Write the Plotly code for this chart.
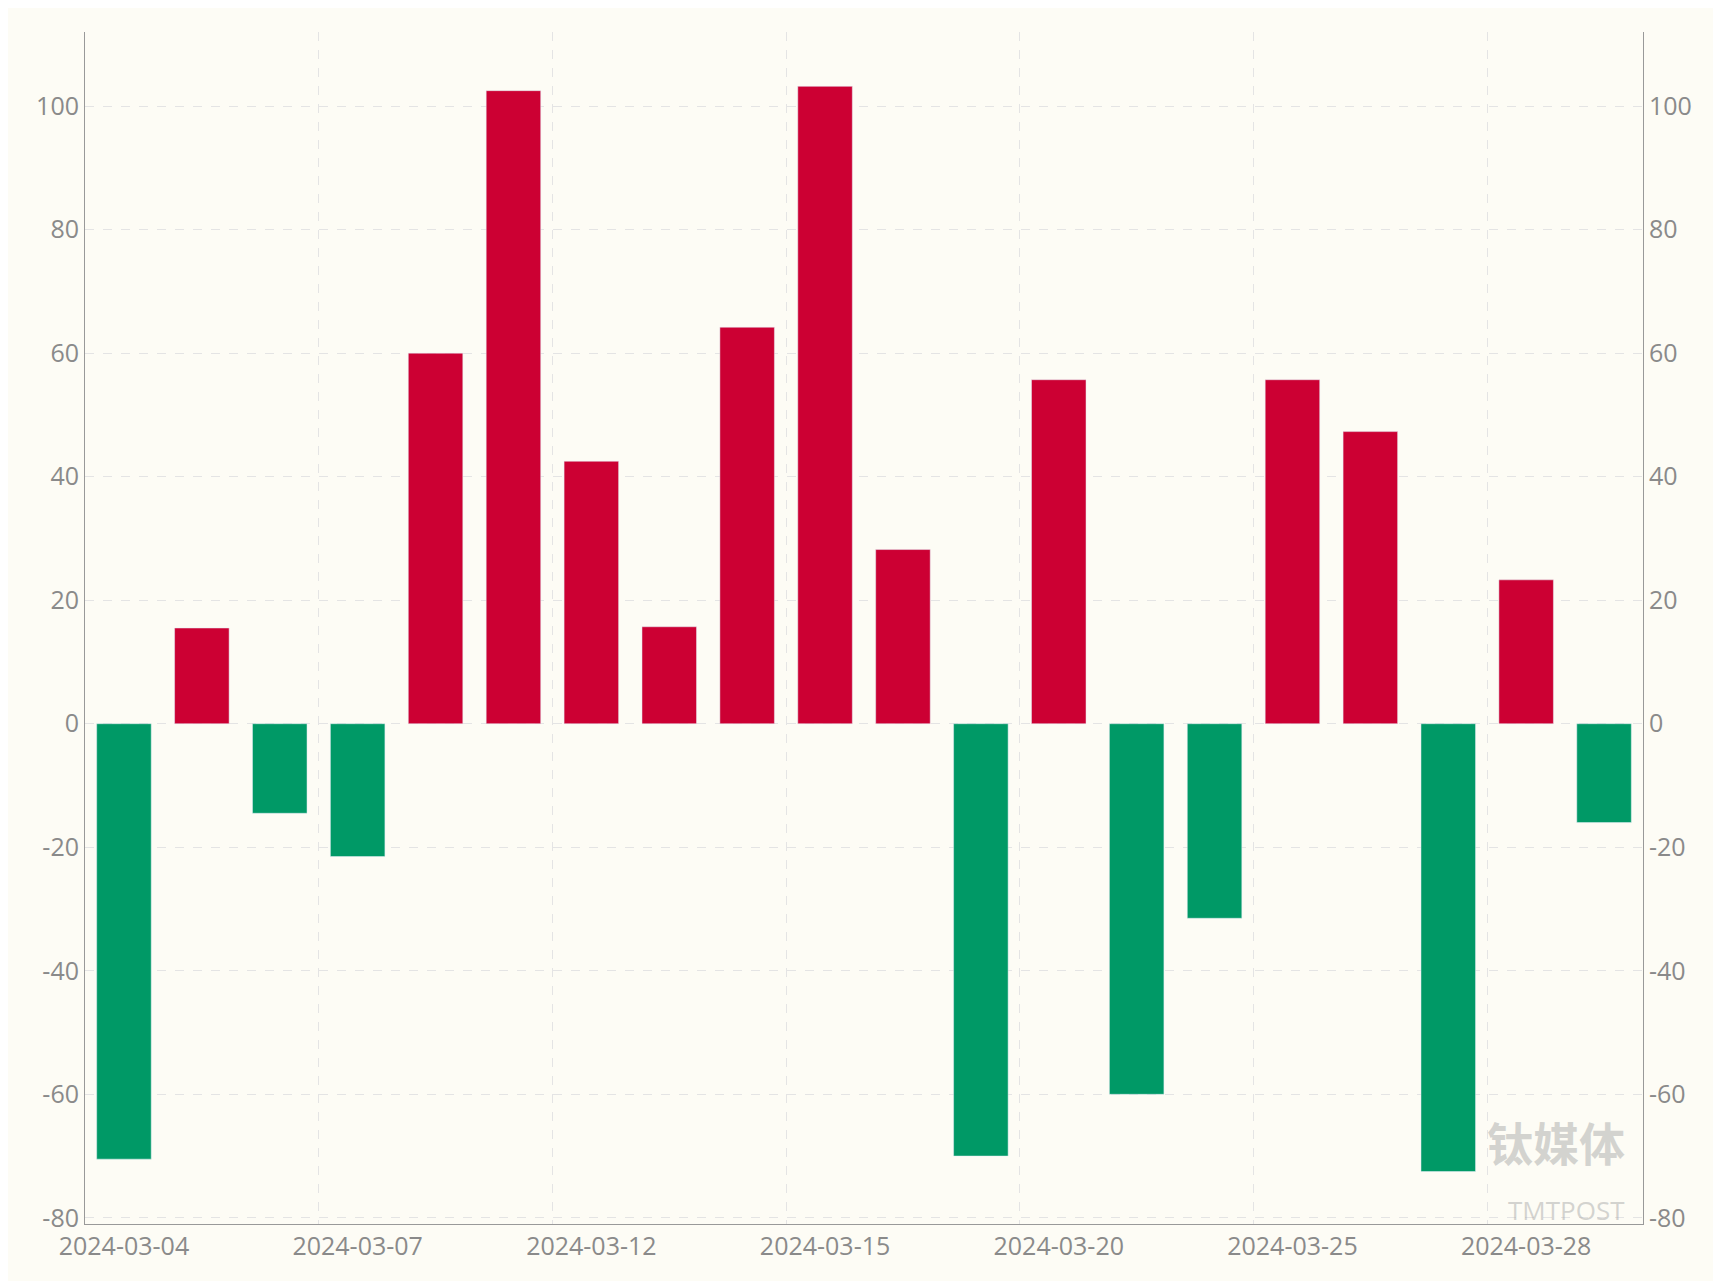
import plotly.graph_objects as go

dates = ["2024-03-04", "2024-03-05", "2024-03-06", "2024-03-07", "2024-03-08",
         "2024-03-11", "2024-03-12", "2024-03-13", "2024-03-14", "2024-03-15",
         "2024-03-18", "2024-03-19", "2024-03-20", "2024-03-21", "2024-03-22",
         "2024-03-25", "2024-03-26", "2024-03-27", "2024-03-28", "2024-03-29"]
values = [-70.5, 15.5, -14.5, -21.5, 60.0, 102.5, 42.5, 15.7, 64.2, 103.2,
          28.2, -70.0, 55.7, -60.0, -31.5, 55.7, 47.3, -72.5, 23.3, -16.0]
yticks = [-80, -60, -40, -20, 0, 20, 40, 60, 80, 100]

colors = ["#cc0033" if v >= 0 else "#009966" for v in values]

fig = go.Figure()
fig.add_trace(go.Bar(x=dates, y=values, marker_color=colors, width=0.7, showlegend=False))
fig.add_trace(go.Scatter(x=dates, y=values, yaxis="y2", mode="none", showlegend=False, hoverinfo="skip"))

grid = dict(showgrid=True, gridcolor="#e4e4e4", griddash="dash", gridwidth=1)
yax = dict(range=[-81, 112], tickvals=yticks, ticktext=[str(t) for t in yticks],
           tickfont=dict(size=25, color="#8a8a8a", family="Open Sans"),
           zeroline=False, showline=True, linecolor="#999999", ticks="")
fig.update_layout(
    width=1721, height=1281,
    paper_bgcolor="#fdfcf5", plot_bgcolor="#fdfcf5",
    margin=dict(l=77, r=86, t=24, b=65),
    xaxis=dict(type="category", tickson="boundaries", dtick=3, tickangle=0, **grid,
               showline=True, linecolor="#999999", ticks="",
               tickfont=dict(size=25, color="#8a8a8a", family="Open Sans")),
    yaxis=dict(**yax, **grid),
    yaxis2=dict(**yax, overlaying="y", side="right", showgrid=False),
)
fig.add_annotation(text="<b>钛媒体</b>", xref="paper", yref="paper", x=0.99, y=0.04,
                   showarrow=False, font=dict(size=46, color="rgba(170,170,170,0.5)",
                                              family="Noto Sans CJK SC"))
fig.add_annotation(text="TMTPOST", xref="paper", yref="paper", x=0.99, y=-0.005,
                   showarrow=False, font=dict(size=26, color="rgba(170,170,170,0.5)", family="Open Sans"))
fig.write_html("out.html")
